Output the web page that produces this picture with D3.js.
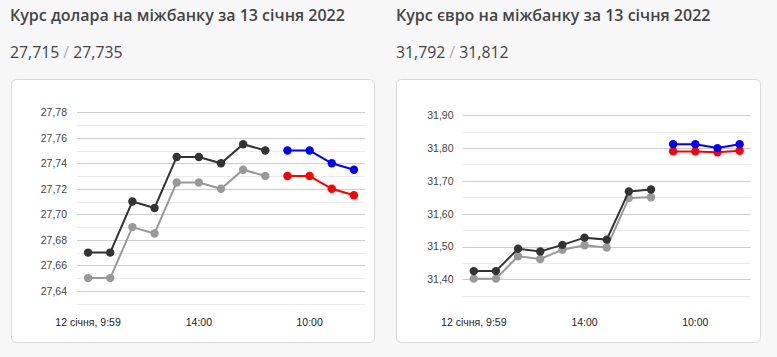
<!DOCTYPE html>
<html><head><meta charset="utf-8">
<script src="https://cdn.jsdelivr.net/npm/d3@7"></script>
<style>
html,body{margin:0;padding:0;background:#f7f7f7;}
svg{display:block;}
</style></head>
<body>
<svg id="c" width="777" height="357"></svg>
<script>
const xLabels = ["12 січня, 9:59","","","","","14:00","","","","","10:00","",""];
const nPoints = 13;

const usdTitle = "Курс долара на міжбанку за 13 січня 2022";
const usdHeadBuy = "27,715", usdHeadSell = "27,735";
const usdYesterdayBuy  = [27.65,27.65,27.69,27.685,27.725,27.725,27.72,27.735,27.73];
const usdYesterdaySell = [27.67,27.67,27.71,27.705,27.745,27.745,27.74,27.755,27.75];
const usdTodayBuy  = [27.73,27.73,27.72,27.715];
const usdTodaySell = [27.75,27.75,27.74,27.735];
const usdTicks = [27.64,27.66,27.68,27.70,27.72,27.74,27.76,27.78];

const eurTitle = "Курс євро на міжбанку за 13 січня 2022";
const eurHeadBuy = "31,792", eurHeadSell = "31,812";
const eurYesterdayBuy  = [31.402,31.402,31.470,31.462,31.490,31.504,31.497,31.648,31.650];
const eurYesterdaySell = [31.425,31.425,31.493,31.485,31.505,31.527,31.521,31.668,31.674];
const eurTodayBuy  = [31.790,31.790,31.787,31.792];
const eurTodaySell = [31.812,31.812,31.800,31.812];
const eurTicks = [31.40,31.50,31.60,31.70,31.80,31.90];

const svg = d3.select("#c");
const fmt = v => v.toFixed(2).replace(".", ",");

function panel(o){
  const g = svg.append("g");
  g.append("text").attr("x", o.tx).attr("y", 21)
    .attr("font-family","'Open Sans', sans-serif").attr("font-weight",600)
    .attr("font-size",16).attr("fill","#444").text(o.title);
  const sub = g.append("text").attr("x", o.tx).attr("y", 57.5)
    .attr("font-family","'Open Sans', sans-serif").attr("font-size",15.8).attr("fill","#444");
  sub.append("tspan").text(o.buy + " ");
  sub.append("tspan").attr("fill","#aaa").text("/");
  sub.append("tspan").text(" " + o.sell);

  g.append("rect").attr("x", o.card[0]+0.5).attr("y", o.card[1]+0.5)
    .attr("width", o.card[2]-o.card[0]).attr("height", o.card[3]-o.card[1])
    .attr("rx",5).attr("fill","#fff").attr("stroke","#d9d9d9");

  const x = d3.scaleBand().domain(d3.range(nPoints)).range([o.gx0, o.gx1]);
  const y = d3.scaleLinear().domain(o.dom).range([o.gy1, o.gy0]);
  const cx = i => x(i) + x.bandwidth()/2;

  const minor = d3.range(Math.round((o.dom[1]-o.dom[0])/o.minorStep)+1).map(i => o.dom[0] + i*o.minorStep);
  g.append("g").selectAll("line").data(minor).join("line")
    .attr("x1",o.gx0).attr("x2",o.gx1)
    .attr("y1",d=>Math.round(y(d))+0.5).attr("y2",d=>Math.round(y(d))+0.5)
    .attr("stroke","#ebebeb");
  g.append("g").selectAll("line").data(o.ticks).join("line")
    .attr("x1",o.gx0).attr("x2",o.gx1)
    .attr("y1",d=>Math.round(y(d))+0.5).attr("y2",d=>Math.round(y(d))+0.5)
    .attr("stroke","#cccccc");

  const yAxis = d3.axisLeft(y).tickValues(o.ticks).tickFormat(fmt).tickSize(0).tickPadding(0);
  const ya = g.append("g").attr("transform",`translate(${o.labelX},0)`).call(yAxis);
  ya.select(".domain").remove();
  ya.selectAll("text").attr("font-family","Arial, 'Liberation Sans', sans-serif")
    .attr("font-size",10.5).attr("fill","#444");

  const xAxis = d3.axisBottom(x).tickFormat(i => xLabels[i]).tickSize(0).tickPadding(0);
  const xa = g.append("g").attr("transform",`translate(0,${o.labelY})`).call(xAxis);
  xa.select(".domain").remove();
  xa.selectAll("text").attr("font-family","Arial, 'Liberation Sans', sans-serif")
    .attr("font-size",10.5).attr("fill","#222");

  const line = d3.line().x(d=>cx(d.i)).y(d=>y(d.v));
  const series = [
    {vals:o.yb, off:0, color:"#999999"},
    {vals:o.ys, off:0, color:"#333333"},
    {vals:o.tb, off:9, color:"#ff0000"},
    {vals:o.ts, off:9, color:"#0000ff"}
  ];
  series.forEach(s=>{
    const pts = s.vals.map((v,k)=>({i:k+s.off, v}));
    g.append("path").datum(pts).attr("d",line).attr("fill","none")
      .attr("stroke",s.color).attr("stroke-width",2);
    g.append("g").selectAll("circle").data(pts).join("circle")
      .attr("cx",d=>cx(d.i)).attr("cy",d=>y(d.v)).attr("r",4.2).attr("fill",s.color);
  });
}

panel({title:usdTitle, buy:usdHeadBuy, sell:usdHeadSell, tx:10,
  card:[11,79,374,342], gx0:77, gx1:365, gy0:112.3, gy1:303.6, dom:[27.63,27.78],
  minorStep:0.01, ticks:usdTicks, labelX:67, labelY:318.5,
  yb:usdYesterdayBuy, ys:usdYesterdaySell, tb:usdTodayBuy, ts:usdTodaySell});

panel({title:eurTitle, buy:eurHeadBuy, sell:eurHeadSell, tx:396,
  card:[396,79,760,342], gx0:462.7, gx1:750.7, gy0:115.3, gy1:295.7, dom:[31.35,31.90],
  minorStep:0.05, ticks:eurTicks, labelX:453.5, labelY:318.5,
  yb:eurYesterdayBuy, ys:eurYesterdaySell, tb:eurTodayBuy, ts:eurTodaySell});
</script>
</body></html>
